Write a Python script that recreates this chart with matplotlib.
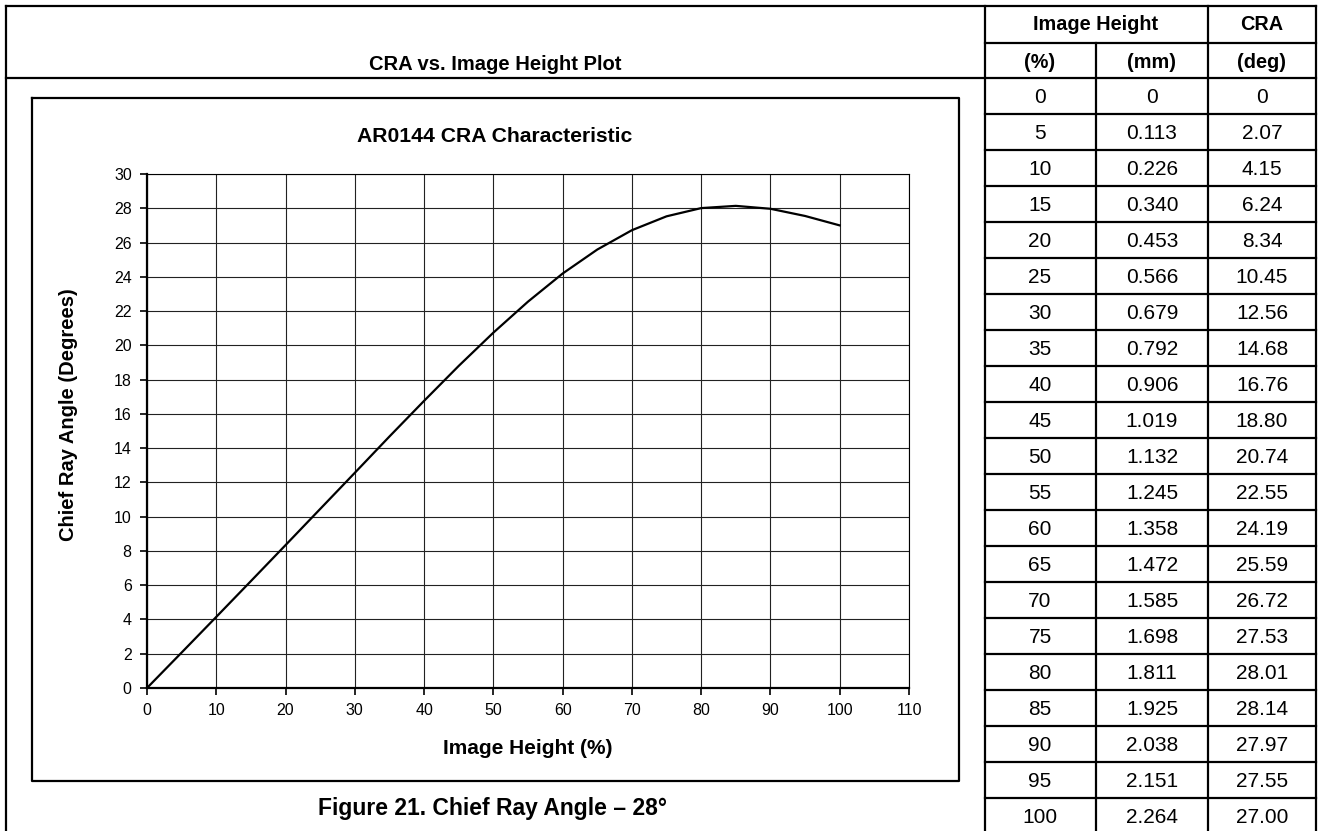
import matplotlib.pyplot as plt

plt.rcParams['font.family'] = ['Liberation Sans', 'DejaVu Sans']

# table / curve data
pct = [0, 5, 10, 15, 20, 25, 30, 35, 40, 45, 50, 55, 60, 65, 70, 75, 80, 85, 90, 95, 100]
mm = [0, 0.113, 0.226, 0.340, 0.453, 0.566, 0.679, 0.792, 0.906, 1.019, 1.132,
      1.245, 1.358, 1.472, 1.585, 1.698, 1.811, 1.925, 2.038, 2.151, 2.264]
cra = [0, 2.07, 4.15, 6.24, 8.34, 10.45, 12.56, 14.68, 16.76, 18.80, 20.74,
       22.55, 24.19, 25.59, 26.72, 27.53, 28.01, 28.14, 27.97, 27.55, 27.00]

x_ticks = list(range(0, 111, 10))
y_ticks = list(range(0, 31, 2))

W, H = 1320, 831
fig = plt.figure(figsize=(W / 100, H / 100), dpi=100)

# background axes in pixel coords for the table frame
bg = fig.add_axes([0, 0, 1, 1])
bg.set_xlim(0, W)
bg.set_ylim(H, 0)
bg.axis('off')

lw_b = 1.6
top, mid, hdr = 6, 43, 78.3
row_h = 36.0
fs_tab = 15

# outer frame
bg.plot([6, 1316], [top, top], color='k', lw=lw_b)
bg.plot([6, 6], [top, H + 5], color='k', lw=lw_b)
bg.plot([1316, 1316], [top, H + 5], color='k', lw=lw_b)
bg.plot([6, 1316], [hdr, hdr], color='k', lw=lw_b)
bg.plot([985, 1316], [mid, mid], color='k', lw=lw_b)
bg.plot([985, 985], [top, H + 5], color='k', lw=lw_b)
bg.plot([1208, 1208], [top, H + 5], color='k', lw=lw_b)
bg.plot([1096, 1096], [mid, H + 5], color='k', lw=lw_b)
for i in range(1, len(pct)):
    y = hdr + i * row_h
    bg.plot([985, 1316], [y, y], color='k', lw=lw_b)

# headers
bg.text(495, 64, 'CRA vs. Image Height Plot', ha='center', va='center',
        fontsize=14.5, fontweight='bold')
bg.text(1096, 25, 'Image Height', ha='center', va='center', fontsize=14.3, fontweight='bold')
bg.text(1262, 25, 'CRA', ha='center', va='center', fontsize=14.3, fontweight='bold')
bg.text(1040, 62, '(%)', ha='center', va='center', fontsize=14.3, fontweight='bold')
bg.text(1152, 62, '(mm)', ha='center', va='center', fontsize=14.3, fontweight='bold')
bg.text(1262, 62, '(deg)', ha='center', va='center', fontsize=14.3, fontweight='bold')

for i, (p, m, c) in enumerate(zip(pct, mm, cra)):
    yc = hdr + (i + 0.5) * row_h + 1
    m_s = '0' if m == 0 else f'{m:.3f}'
    c_s = '0' if c == 0 else f'{c:.2f}'
    bg.text(1040, yc, str(p), ha='center', va='center', fontsize=fs_tab)
    bg.text(1152, yc, m_s, ha='center', va='center', fontsize=fs_tab)
    bg.text(1262, yc, c_s, ha='center', va='center', fontsize=fs_tab)

# chart box
bg.plot([32, 959, 959, 32, 32], [98, 98, 781, 781, 98], color='k', lw=lw_b)
bg.text(495, 137, 'AR0144 CRA Characteristic', ha='center', va='center',
        fontsize=15.2, fontweight='bold')
bg.text(68, 415, 'Chief Ray Angle (Degrees)', ha='center', va='center',
        rotation=90, fontsize=14.5, fontweight='bold')
bg.text(528, 748, 'Image Height (%)', ha='center', va='center',
        fontsize=15, fontweight='bold')
bg.text(492, 809, 'Figure 21. Chief Ray Angle \u2013 28\u00b0', ha='center', va='center',
        fontsize=16.5, fontweight='bold')

# plot area
x0, x1, y0, y1 = 147, 909, 174, 688
ax = fig.add_axes([x0 / W, (H - y1) / H, (x1 - x0) / W, (y1 - y0) / H])
ax.plot(pct, cra, color='k', lw=1.6, solid_joinstyle='round')
ax.set_xlim(0, 110)
ax.set_ylim(0, 30)
ax.set_xticks(x_ticks)
ax.set_yticks(y_ticks)
ax.grid(True, color='#222222', lw=0.8)
ax.tick_params(direction='out', length=5, width=1.2, labelsize=11.5, pad=6)
for s in ['left', 'bottom']:
    ax.spines[s].set_linewidth(1.6)
for s in ['top', 'right']:
    ax.spines[s].set_linewidth(0.8)

fig.savefig('out.png', dpi=100)
